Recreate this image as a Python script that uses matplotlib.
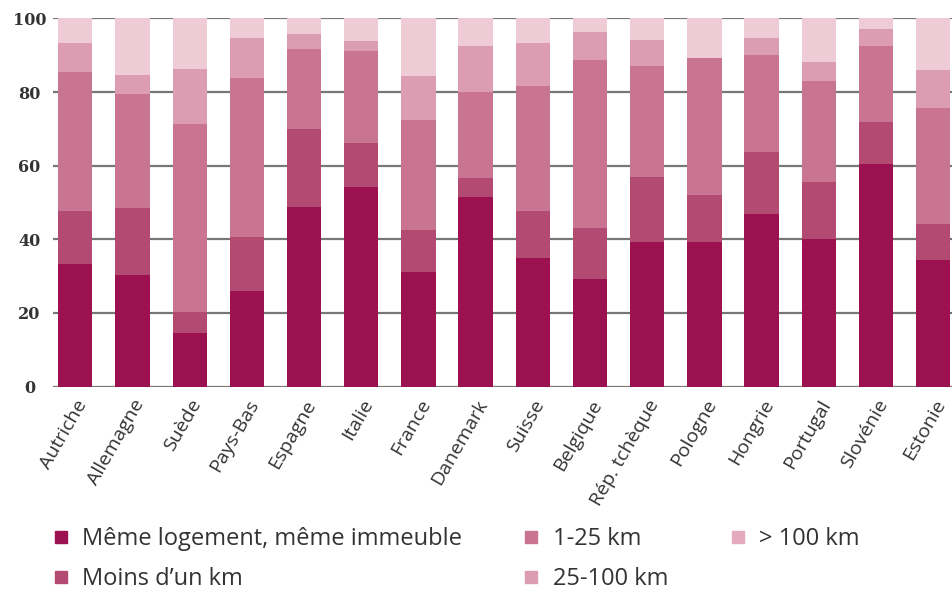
import matplotlib
matplotlib.use("Agg")
import matplotlib.pyplot as plt
import numpy as np
from matplotlib.lines import Line2D

countries = ["Autriche", "Allemagne", "Suède", "Pays-Bas", "Espagne", "Italie",
             "France", "Danemark", "Suisse", "Belgique", "Rép. tchèque", "Pologne",
             "Hongrie", "Portugal", "Slovénie", "Estonie"]
meme_logement = [33.3, 30.3, 14.7, 26.0, 48.7, 54.3, 31.0, 51.4, 34.8, 29.1, 39.2, 39.2, 46.9, 40.0, 60.4, 34.4]
moins_un_km   = [14.5, 18.1,  5.7, 14.5, 21.2, 11.8, 11.4,  5.2, 13.0, 14.1, 17.6, 12.8, 16.7, 15.7, 11.5,  9.8]
km_1_25       = [37.7, 31.2, 50.9, 43.2, 21.7, 25.1, 30.0, 23.5, 33.8, 45.5, 30.3, 37.3, 26.4, 27.3, 20.7, 31.4]
km_25_100     = [ 7.7,  5.0, 14.9, 11.1,  4.1,  2.6, 11.9, 12.4, 11.8,  7.7,  7.0,  0.0,  4.8,  5.2,  4.4, 10.4]
km_100_plus   = [ 6.8, 15.4, 13.8,  5.2,  4.3,  6.2, 15.7,  7.5,  6.6,  3.6,  5.9, 10.7,  5.2, 11.8,  3.0, 14.0]

series = [meme_logement, moins_un_km, km_1_25, km_25_100, km_100_plus]
labels = ["Même logement, même immeuble", "Moins d’un km", "1-25 km", "25-100 km", "> 100 km"]
colors = ["#9c1150", "#b34a72", "#c97591", "#dc9cb2", "#efcbd5"]
legend_colors = ["#9c1150", "#b34a72", "#c97591", "#dc9cb2", "#e3a9bc"]
yticks = [0, 20, 40, 60, 80, 100]

fig = plt.figure(figsize=(9.52, 5.93), dpi=100)
ax = fig.add_axes([53/952, 0.348, 1 - 53/952, 0.969 - 0.348])

x = np.arange(len(countries))
bottom = np.zeros(len(countries))
for vals, lab, col in zip(series, labels, colors):
    v = np.array(vals)
    ax.bar(x, v, bottom=bottom, width=0.6, color=col, label=lab, zorder=3)
    bottom += v

ax.set_ylim(0, 100)
ax.set_xlim(-0.39, 15.33)
ax.set_yticks(yticks)
ax.set_yticklabels([str(t) for t in yticks], family="DejaVu Serif",
                   fontweight="bold", fontsize=11.5, color="#333333", ha="center")
ax.yaxis.grid(True, color="#777777", linewidth=1.6, zorder=0)
ax.tick_params(axis="y", length=0, pad=17)
ax.tick_params(axis="x", length=0, pad=7)
for s in ax.spines.values():
    s.set_visible(False)

ax.set_xticks(x)
ax.set_xticklabels(countries, rotation=60, ha="right", rotation_mode="anchor",
                   family="Open Sans", fontsize=14, color="#333333")

proxies = [Line2D([], [], marker="s", linestyle="none", markersize=9,
                  markerfacecolor=c, markeredgecolor=c) for c in legend_colors]
leg = fig.legend(proxies, labels, ncol=3, loc="upper left",
                 bbox_to_anchor=(0.045, 0.127), frameon=False,
                 prop={"family": "Open Sans", "size": 17},
                 handlelength=0.7, handletextpad=0.55, columnspacing=2.6,
                 labelspacing=0.68, borderaxespad=0)
for t in leg.get_texts():
    t.set_color("#333333")

fig.savefig("out.png", dpi=100)
